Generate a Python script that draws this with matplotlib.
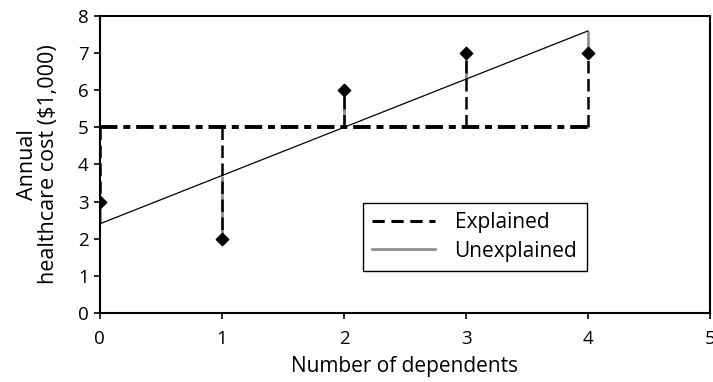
import matplotlib
matplotlib.use("Agg")
import matplotlib.pyplot as plt
import numpy as np
from matplotlib.lines import Line2D

plt.rcParams['font.family'] = ['Open Sans', 'DejaVu Sans']

dependents = [0, 1, 2, 3, 4]
cost = [3, 2, 6, 7, 7]
x_ticks = [0, 1, 2, 3, 4, 5]
y_ticks = [0, 1, 2, 3, 4, 5, 6, 7, 8]

x = np.array(dependents, dtype=float)
y = np.array(cost, dtype=float)
mean_y = y.mean()
slope, intercept = np.polyfit(x, y, 1)
fit = intercept + slope * x

fig = plt.figure(figsize=(7.13, 3.82), dpi=100)
ax = fig.add_axes([0.140, 0.181, 0.856, 0.777])

# unexplained (grey) segments from fit to point
for xi, yi, fi in zip(x, y, fit):
    ax.plot([xi, xi], [fi, yi], color='#909090', lw=2.0, zorder=2, solid_capstyle='butt')
# regression line
ax.plot([x.min(), x.max()], [intercept + slope * x.min(), intercept + slope * x.max()],
        color='black', lw=0.9, zorder=3)
# mean line
ax.plot([x.min(), x.max()], [mean_y, mean_y], color='black', lw=2.8,
        dashes=(4.5, 1.5, 1.8, 1.5), zorder=4)
# explained (dashed) segments from mean to point
for xi, yi in zip(x, y):
    ax.plot([xi, xi], [mean_y, yi], color='black', lw=1.8, dashes=(5, 2.2), zorder=4)
ax.scatter(x, y, marker='D', s=40, color='black', zorder=5)

ax.set_xlim(0, 5)
ax.set_ylim(0, 8)
ax.set_xticks(x_ticks)
ax.set_yticks(y_ticks)
ax.tick_params(axis='both', direction='out', length=4, width=1.2, labelsize=13.5)
ax.tick_params(axis='x', pad=8)
ax.tick_params(axis='y', pad=4)
for s in ax.spines.values():
    s.set_linewidth(1.5)

ax.set_xlabel('Number of dependents', fontsize=15, labelpad=6)
ax.set_ylabel('Annual\nhealthcare cost ($1,000)', fontsize=15.5, linespacing=1.0, labelpad=14)

handles = [Line2D([0], [0], color='black', lw=2.2, dashes=(4, 2.2)),
           Line2D([0], [0], color='#909090', lw=2.0)]
leg = ax.legend(handles, ['Explained', 'Unexplained'], loc='upper left',
                bbox_to_anchor=(0.431, 0.370), fontsize=15, frameon=True,
                fancybox=False, edgecolor='black', framealpha=1,
                handlelength=3.0, handletextpad=0.95, borderpad=0.45,
                labelspacing=0.35, borderaxespad=0)
leg.get_frame().set_linewidth(1.0)

fig.savefig('out.png', dpi=100)
